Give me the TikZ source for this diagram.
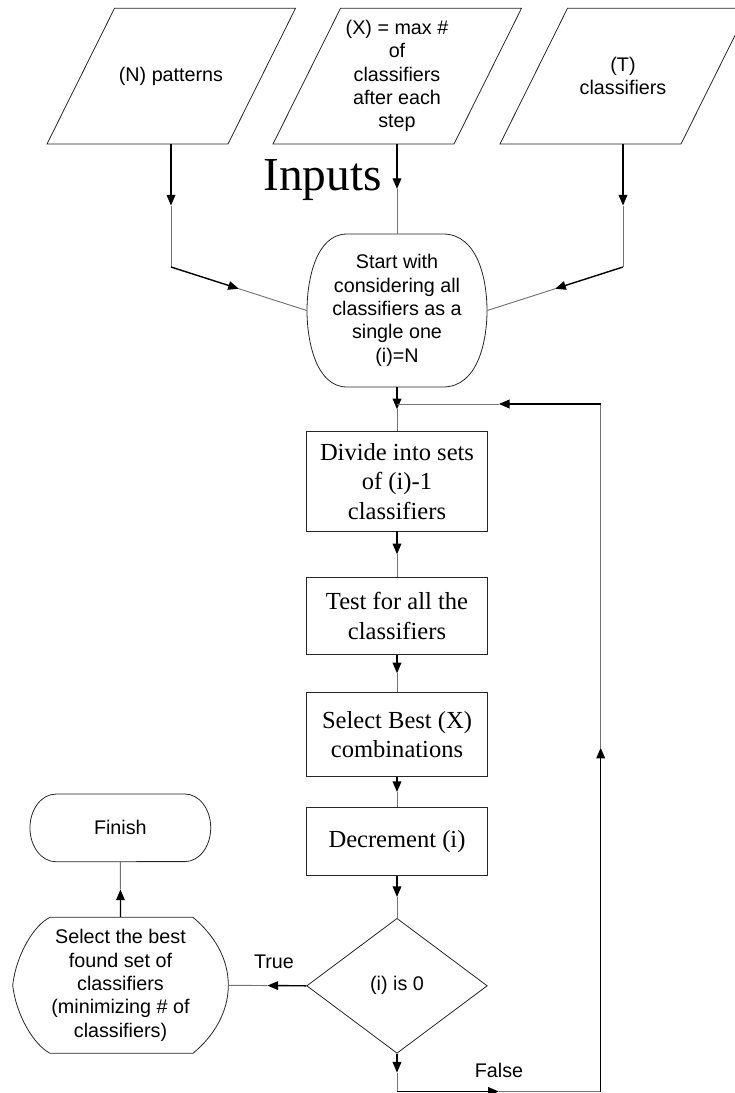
\documentclass[tikz,border=0pt]{standalone}
\usepackage{fontspec}
\setmainfont{Liberation Serif}
\newfontfamily\arialf{Liberation Sans}
\usetikzlibrary{arrows.meta,calc,shapes.geometric}
\newcommand\linkab[2]{%
  \draw[halfa] (#1) -- ($(#1)!0.5!(#2)$);
  \draw[halfb] ($(#1)!0.5!(#2)$) -- (#2);}
\begin{document}
\begin{tikzpicture}[x=0.75pt,y=-0.75pt,
  shapeline/.style={draw=black!85, line width=0.6pt},
  sanstext/.style={font=\arialf\fontsize{14.8}{17.5}\selectfont, align=center},
  serftext/.style={font=\fontsize{18.4}{22}\selectfont, align=center},
  hold/.style={inner sep=0pt, draw=none},
  procbox/.style={shapeline, rectangle, inner sep=0pt, minimum width=135.45pt, serftext},
  halfa/.style={line width=1.05pt, draw=black, -{Triangle[length=8pt,width=6.5pt]}},
  halfb/.style={line width=0.7pt, draw=black!55}
]
\useasboundingbox (0,0) rectangle (735,1093);
\clip (0,0) rectangle (735,1093);

% ---- input parallelograms
\draw[shapeline] (47,144) -- (228,144) -- (295.5,8.3) -- (114.5,8.3) -- cycle;
\draw[shapeline] (273,144) -- (454,144) -- (521.5,8.3) -- (340.5,8.3) -- cycle;
\draw[shapeline] (500,144) -- (681,144) -- (748.5,8.3) -- (567.5,8.3) -- cycle;
\node[hold, minimum width=135.75pt, minimum height=101.8pt, sanstext] (p1) at (171,76) {(N) patterns};
\node[hold, minimum width=135.75pt, minimum height=101.8pt, sanstext] (p2) at (397,76) {(X) = max \#\\of\\classifiers\\after each\\step};
\node[hold, minimum width=135.75pt, minimum height=101.8pt, sanstext] (p3) at (623,76) {(T)\\classifiers};

\node[font=\fontsize{35.5}{40}\selectfont, anchor=base, inner sep=0pt] (inputs) at (322.5,190.7) {Inputs};

% ---- start node
\draw[shapeline] (347,234) -- (443,234) .. controls (478,234) and (487,280) .. (487,310.5)
  .. controls (487,341) and (478,387) .. (443,387) -- (347,387)
  .. controls (316,387) and (307,341) .. (307,310.5)
  .. controls (307,280) and (316,234) .. (347,234) -- cycle;
\node[hold, minimum width=135pt, minimum height=114.75pt, sanstext] (start) at (397,310.5)
  {Start with\\considering all\\classifiers as a\\single one\\(i)=N};

\coordinate (c1) at (171,267);
\coordinate (c3) at (623,267);

% ---- process boxes
\node[procbox, minimum height=74.5pt] (divide) at (397,481.3) {Divide into sets\\of (i)-1\\classifiers};
\node[procbox, minimum height=57.5pt] (test) at (397,616) {Test for all the\\classifiers};
\node[procbox, minimum height=63.3pt] (select) at (397,734.5) {Select Best (X)\\combinations};
\node[procbox, minimum height=51.3pt] (decr) at (397,841.5) {Decrement (i)};

% ---- decision
\node[shapeline, diamond, inner sep=0pt, minimum width=135.45pt, minimum height=101.25pt, sanstext] (dec) at (397,985.8) {(i) is 0};

% ---- display shape
\draw[shapeline] (50,917.3) -- (193,917.3) .. controls (214,935) and (228.3,958) .. (228.3,985.3)
  .. controls (228.3,1012) and (214,1036) .. (193,1053.3) -- (50,1053.3)
  .. controls (34,1045) and (16,1015) .. (12.7,985.3)
  .. controls (16,955) and (34,925) .. (50,917.3) -- cycle;
\node[hold, minimum width=161.7pt, minimum height=102pt, sanstext] (display) at (120.5,985.3)
  {Select the best\\found set of\\classifiers\\(minimizing \# of\\classifiers)};

% ---- finish
\draw[shapeline] (55.7,794) -- (185,794) arc[start angle=90, end angle=-90, x radius=19.3pt, y radius=25.35pt]
  -- (55.7,861.7) arc[start angle=270, end angle=90, x radius=19.3pt, y radius=25.35pt] -- cycle;
\node[hold, minimum width=135.5pt, minimum height=50.8pt, sanstext] (finish) at (120.35,827.85) {Finish};

% ---- loop coordinates
\coordinate (j) at (397,404);
\coordinate (lr) at (600.7,404);
\coordinate (br) at (600.7,1091.5);
\coordinate (bl) at (397,1091.5);

% ---- connectors
\linkab{p1.south}{c1}
\linkab{c1}{start.west}
\linkab{p2.south}{start.north}
\linkab{p3.south}{c3}
\linkab{c3}{start.east}
\linkab{start.south}{divide.north}
\linkab{divide.south}{test.north}
\linkab{test.south}{select.north}
\linkab{select.south}{decr.north}
\linkab{decr.south}{dec.north}
\linkab{dec.south}{bl}
\linkab{bl}{br}
\linkab{br}{lr}
\linkab{lr}{j}
\linkab{dec.west}{display.east}
\linkab{display.north}{finish.south}

\node[sanstext, inner sep=0pt] (truelbl) at (274,961.7) {True};
\node[sanstext, inner sep=0pt] (falselbl) at (499,1070) {False};
\end{tikzpicture}
\end{document}
